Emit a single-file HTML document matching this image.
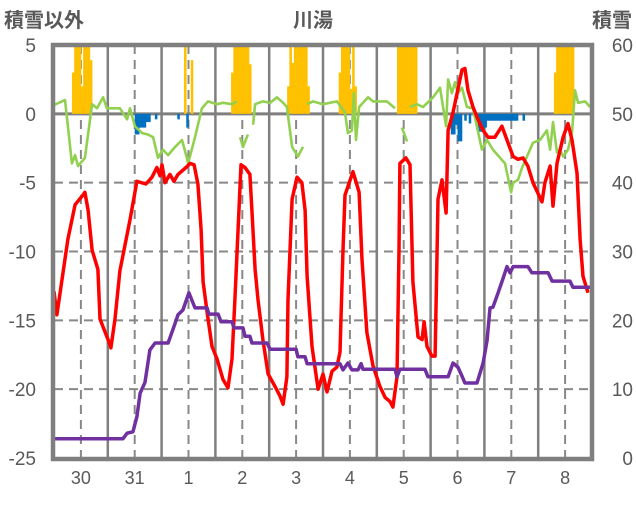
<!DOCTYPE html>
<html><head><meta charset="utf-8"><style>
html,body{margin:0;padding:0;background:#fff;}
svg text{font-family:"Liberation Sans","Noto Sans CJK JP",sans-serif;fill:#595959;}
</style></head><body>
<svg id="chart" width="636" height="501" viewBox="0 0 636 501" xmlns="http://www.w3.org/2000/svg">
<g id="grid"></g>
<g id="bars"></g>
<g id="lines"></g>
<g id="frame"></g>
<g id="labels"></g>
</svg>
<script>
const dayLabels=["30","31","1","2","3","4","5","6","7","8"];
const leftTicks=[5,0,-5,-10,-15,-20,-25];
const rightTicks=[60,50,40,30,20,10,0];
const redT=[0,1.3,6.2,9.4,12.9,13.8,15.2,17.0,19.6,20.5,24.1,25.4,27.2,29.4,33.9,37.0,41.0,43.7,45.9,47.3,48.2,49.5,51.7,53.5,55.3,58.9,60.7,62.5,64.2,65.6,66.5,68.3,70.5,72.7,75.4,77.6,79.4,80.7,83.4,85.2,87.4,88.3,89.7,91.0,93.2,95.5,98.6,100.8,102.2,103.9,104.4,106.2,108.4,110.6,112.0,112.9,115.1,117.8,120.0,121.8,124.0,126.2,127.6,128.9,129.8,133.4,136.1,137.4,139.6,142.3,145.4,147.7,149.9,151.2,153.0,153.9,154.3,157.0,158.8,160.1,162.4,164.2,165.1,166.4,168.6,170.0,170.9,171.3,173.1,174.9,175.8,178.0,179.8,182.0,183.3,184.7,186.9,189.1,191.4,193.6,196.7,199.8,202.1,204.8,207.0,209.2,211.4,213.7,217.7,219.0,221.3,222.6,224.4,227.1,229.3,231.1,233.3,234.7,236.0,238.2];
const redV=[-12.9,-14.6,-9.1,-6.6,-5.9,-5.7,-7.0,-9.9,-11.3,-14.9,-16.4,-17.0,-14.9,-11.4,-7.7,-4.9,-5.1,-4.6,-3.9,-4.5,-3.7,-5.0,-4.4,-4.9,-4.4,-3.9,-3.6,-3.7,-5.1,-8.4,-12.2,-14.4,-16.9,-17.8,-19.3,-19.9,-17.8,-13.5,-3.7,-3.9,-4.4,-7.0,-11.3,-13.5,-16.4,-18.9,-19.8,-20.5,-21.1,-19.1,-13.5,-6.2,-4.6,-5.0,-7.0,-11.8,-16.9,-20.0,-18.9,-20.2,-18.7,-18.4,-17.3,-9.9,-5.9,-4.2,-5.7,-10.6,-15.9,-18.3,-19.8,-20.6,-20.9,-21.3,-19.1,-9.9,-3.6,-3.2,-3.7,-12.2,-16.2,-16.4,-15.1,-16.9,-17.6,-17.6,-9.9,-6.2,-4.8,-7.2,-1.2,0.1,1.5,3.2,3.3,1.7,0.5,-0.4,-1.2,-1.7,-1.7,-0.9,-1.9,-3.1,-3.3,-3.2,-3.8,-5.0,-6.4,-5.0,-3.8,-6.7,-3.6,-1.7,-0.7,-1.9,-4.3,-9.1,-11.8,-13.0];
const greenT=[0,4.9,6.2,8.0,9.4,10.7,13.8,17.0,19.2,21.9,23.6,29.4,32.6,33.9,36.1,39.3,41.9,44.2,46.4,48.6,50.9,54.0,57.1,59.3,59.8,62.9,66.0,68.7,72.7,75.4,79.4,81.6,82.5,83.0,84.3,86.5,87.5,88.8,89.7,93.2,96.4,99.5,102.2,103.9,106.2,108.8,111.1,112.0,112.9,115.5,120.0,126.2,129.8,131.1,132.9,133.8,134.7,136.1,140.1,142.3,148.5,152.1,153.0,155.2,157.5,158.0,158.8,161.9,164.6,169.1,172.2,174.9,175.8,177.5,178.9,180.2,182.0,184.2,186.9,190.9,193.2,195.8,199.0,201.2,202.5,203.9,204.8,207.0,208.8,211.0,213.7,216.8,219.9,221.3,222.6,224.4,225.7,227.1,229.3,231.1,232.4,233.8,236.9,239.1];
const greenV=[0.65,1.0,-0.9,-3.6,-3.0,-3.8,-3.2,0.7,0.4,1.2,0.4,0.4,-0.4,0.4,-0.9,-1.4,-1.5,-1.7,-3.2,-2.6,-3.0,-2.4,-1.9,-3.2,-3.6,-1.7,0.4,0.9,0.7,0.8,0.7,0.9,null,-1.7,-2.4,-1.5,null,-0.8,0.7,0.9,0.8,1.2,0.8,0.5,-2.4,-3.1,-2.4,null,0.7,0.9,0.7,0.9,0.1,-1.4,-1.2,1.5,-1.9,0.5,1.2,0.9,0.9,0.4,null,-1.0,-2.0,null,0.5,0.7,0.5,1.2,1.9,-0.9,2.5,1.5,2.3,1.5,1.9,0.5,0.4,-2.6,-1.9,-2.6,-3.2,-3.6,-4.6,-5.7,-5.0,-4.8,-3.9,-3.1,-2.1,-1.9,-1.2,-2.6,-0.6,-2.8,-2.6,-3.1,-2.6,-1.4,1.7,0.8,0.9,0.5];
const snowT=[0,30.8,32.6,35.2,37.0,38.4,40.6,42.8,45.1,50.9,53.1,55.3,57.5,60.2,62.9,68.3,69.1,73.2,74.5,79.4,80.3,84.3,85.2,87.4,88.3,95.0,96.4,108.0,108.8,112.0,112.9,127.6,128.9,131.1,132.9,135.6,137.0,137.8,152.1,153.0,154.3,165.5,166.8,175.8,178.0,180.2,182.0,183.3,188.7,191.4,193.2,194.5,195.8,198.1,199.8,202.1,203.4,204.8,211.4,213.2,220.4,222.2,230.2,231.5,239.1];
const snowV=[2.8,2.8,3.6,3.8,6.0,9.4,11.0,15.7,16.7,16.7,18.7,20.8,21.5,24.0,21.8,21.8,20.9,20.9,19.8,19.8,18.9,18.9,17.7,17.7,16.7,16.7,15.8,15.8,14.7,14.7,13.7,13.7,12.8,13.8,12.8,12.8,13.7,12.9,12.9,11.8,12.9,12.9,11.8,11.8,13.8,13.2,11.9,10.9,10.9,13.8,17.1,21.8,21.9,24.0,25.6,27.8,26.9,27.8,27.8,26.9,26.9,25.7,25.7,24.8,24.8];
const precipH=[8,9,10,11,12,13,14,15,16,58,61,79,80,81,82,83,84,85,86,87,104,105,106,107,108,109,110,111,112,113,127,128,129,130,131,132,133,134,153,154,155,156,157,158,159,160,161,223,224,225,226,227,228,229,230,231];
const precipV=[3,5,5,5,2,5,5,5,3.9,5,3.9,3,5,5,5,5,5,5,5,3.6,2,5,3.7,5,5,5,5,5,5,2,3,5,5,5,5,1.8,5,2,5,5,5,5,5,5,5,5,5,3,5,5,5,5,5,5,5,5];
const meltH=[36,37,38,39,40,41,42,45,55,59,177,178,179,180,181,183,185,189,190,191,192,193,194,195,196,197,198,199,200,201,202,203,204,205,206,209];
const meltV=[-1.5,-1.5,-1.0,-1.0,-1.0,-0.6,-0.6,-0.4,-0.4,-1.0,-1.5,-1.5,-0.8,-2.0,-2.0,-0.5,-0.7,-1.3,-1.3,-1.3,-1.0,-0.5,-0.5,-0.5,-0.5,-0.5,-0.5,-0.5,-0.5,-0.5,-0.5,-0.5,-0.5,-0.5,-0.5,-0.5];

const X0=54,X1=592,YT=45,YB=458;
const xs=h=>X0+h*(X1-X0)/240;
const yL=v=>YT+(5-v)*(YB-YT)/30;
const yR=v=>YB-v*(YB-YT)/60;
const NS="http://www.w3.org/2000/svg";
function mk(tag,parent,attrs){const e=document.createElementNS(NS,tag);for(const k in attrs)e.setAttribute(k,attrs[k]);parent.appendChild(e);return e;}
const grid=document.getElementById('grid'),bars=document.getElementById('bars'),lines=document.getElementById('lines'),frame=document.getElementById('frame'),labels=document.getElementById('labels');

leftTicks.forEach(v=>{if(v===5||v===-25||v===0)return;
 const l=mk('line',grid,{x1:X0,x2:X1,y1:yL(v),y2:yL(v),stroke:'#888',"stroke-width":2,"stroke-dasharray":"9,6"});
 
 });
dayLabels.forEach((d,i)=>{
 const xn=xs(i*24+12);
 const l=mk('line',grid,{x1:xn,x2:xn,y1:YT,y2:YB,stroke:'#888',"stroke-width":2,"stroke-dasharray":"9,6"});
 
 
 if(i>0){const xb=xs(i*24);
 const s=mk('line',grid,{x1:xb,x2:xb,y1:YT,y2:YB,stroke:'#7f7f7f',"stroke-width":2.5});
 
 }
 const t=mk('text',labels,{x:xn,y:484,"font-size":18,"text-anchor":"middle"});t.textContent=d;
 
 
});
const bw=(X1-X0)/240;
precipH.forEach((h,i)=>{const v=precipV[i];
 const r=mk('rect',bars,{x:xs(h),y:yL(v),width:bw+0.3,height:yL(0)-yL(v),fill:'#ffc000'});
 
 });
meltH.forEach((h,i)=>{const v=meltV[i];
 const r=mk('rect',bars,{x:xs(h),y:yL(0),width:bw+0.3,height:yL(v)-yL(0),fill:'#0070c0'});
 
 });
const z=mk('line',grid,{x1:X0,x2:X1,y1:yL(0),y2:yL(0),stroke:'#7f7f7f',"stroke-width":3});



function path(T,V,yf){let d='',pen=false;T.forEach((h,i)=>{const v=V[i];if(v===null){pen=false;return;}d+=(pen?'L':'M')+xs(h).toFixed(1)+','+yf(v).toFixed(1);pen=true;});return d;}
const pg=mk('path',lines,{d:path(greenT,greenV,yL),fill:'none',stroke:'#92d050',"stroke-width":2.6,"stroke-linejoin":"round"});


const pr=mk('path',lines,{d:path(redT,redV,yL),fill:'none',stroke:'#ff0000',"stroke-width":3.5,"stroke-linejoin":"round"});


const pp=mk('path',lines,{d:path(snowT,snowV,yR),fill:'none',stroke:'#7030a0',"stroke-width":3.5,"stroke-linejoin":"round"});



const fr=mk('rect',frame,{x:X0-1,y:YT,width:X1-X0+1,height:YB-YT+1,fill:'none',stroke:'#7f7f7f',"stroke-width":4.5});



leftTicks.forEach(v=>{const t=mk('text',labels,{x:36,y:yL(v)+7,"font-size":19,"text-anchor":"end"});t.textContent=v;
 
 });
rightTicks.forEach(v=>{const t=mk('text',labels,{x:633,y:yR(v)+7,"font-size":19,"text-anchor":"end"});t.textContent=v;
 
 });
[["積雪以外",4,"start","left-axis-title"],["川湯",313,"middle","chart-title"],["積雪",632,"end","right-axis-title"]].forEach(a=>{
 const t=mk('text',labels,{x:a[1],y:27,"font-size":20,"font-weight":"bold","text-anchor":a[2]});t.textContent=a[0];
 
 });
</script>
</body></html>
